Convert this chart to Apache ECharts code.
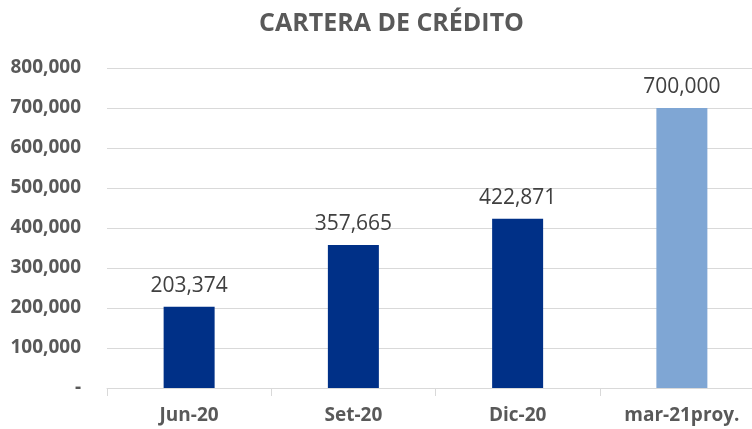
<!DOCTYPE html>
<html>
<head>
<meta charset="utf-8">
<script src="https://cdn.jsdelivr.net/npm/echarts@6/dist/echarts.min.js"></script>
<style>
  html, body { margin: 0; padding: 0; background: #fff; }
  #chart { width: 752px; height: 429px; }
</style>
</head>
<body>
<div id="chart"></div>
<script>
const categories = ['Jun-20', 'Set-20', 'Dic-20', 'mar-21proy.'];
const cartera = [203374, 357665, 422871, 700000];
const barColors = ['#003087', '#003087', '#003087', '#7fa6d4'];

const fmt = v => v === 0 ? '-' : v.toLocaleString('en-US');

const chart = echarts.init(document.getElementById('chart'));
chart.setOption({
  animation: false,
  title: {
    text: 'CARTERA DE CRÉDITO',
    left: 254,
    top: 6,
    textStyle: { fontFamily: 'Open Sans', fontSize: 25, fontWeight: 'bold', color: '#595959' }
  },
  // the plot runs past the right edge of the picture
  grid: { left: 107, width: 657, top: 68, bottom: 41, outerBoundsMode: 'none', containLabel: false },
  xAxis: {
    type: 'category',
    data: categories,
    axisLine: { lineStyle: { color: '#d9d9d9' } },
    axisTick: { show: true, length: 8, lineStyle: { color: '#d9d9d9' } },
    axisLabel: { margin: 18, fontFamily: 'Open Sans', fontSize: 19, fontWeight: 'bold', color: '#595959' }
  },
  yAxis: {
    type: 'value',
    min: 0,
    max: 800000,
    interval: 100000,
    axisLine: { show: false },
    axisTick: { show: false },
    splitLine: { lineStyle: { color: '#d9d9d9' } },
    axisLabel: {
      margin: 26,
      formatter: fmt,
      fontFamily: 'Open Sans', fontSize: 19, fontWeight: 'bold', color: '#595959'
    }
  },
  series: [{
    type: 'bar',
    barWidth: 51,
    data: cartera.map((v, i) => ({ value: v, itemStyle: { color: barColors[i] } })),
    label: {
      show: true,
      position: 'top',
      distance: 10,
      formatter: p => fmt(p.value),
      fontFamily: 'Open Sans', fontSize: 21, color: '#404040'
    }
  }]
});
</script>
</body>
</html>
